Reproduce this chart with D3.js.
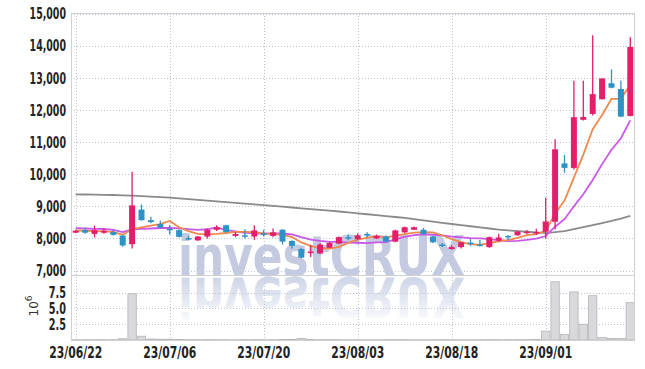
<!DOCTYPE html>
<html>
<head>
<meta charset="UTF-8">
<script src="https://cdn.jsdelivr.net/npm/d3@7"></script>
<title>investCRUX</title>
<style>
body{margin:0;background:#fff;}
text{font-family:"DejaVu Sans Condensed","DejaVu Sans",sans-serif;}
</style>
</head>
<body>
<div id="container"></div>
<script>
// 거래일
var dates=["23/06/22","23/06/23","23/06/26","23/06/27","23/06/28","23/06/29","23/06/30",
"23/07/03","23/07/04","23/07/05","23/07/06","23/07/07","23/07/10","23/07/11","23/07/12","23/07/13","23/07/14",
"23/07/17","23/07/18","23/07/19","23/07/20","23/07/21","23/07/24","23/07/25","23/07/26","23/07/27","23/07/28","23/07/31",
"23/08/01","23/08/02","23/08/03","23/08/04","23/08/07","23/08/08","23/08/09","23/08/10","23/08/11","23/08/14",
"23/08/16","23/08/17","23/08/18","23/08/21","23/08/22","23/08/23","23/08/24","23/08/25","23/08/28","23/08/29","23/08/30","23/08/31",
"23/09/01","23/09/04","23/09/05","23/09/06","23/09/07","23/09/08","23/09/11","23/09/12","23/09/13","23/09/14"];
var tickDates=["23/06/22","23/07/06","23/07/20","23/08/03","23/08/18","23/09/01"];
var priceTicks=[7000,8000,9000,10000,11000,12000,13000,14000,15000];
var volTicks=[2.5,5,7.5];

var opens=[8180,8260,8140,8180,8200,8090,7820,8900,8570,8450,8300,8260,8010,7940,8060,8270,8410,8080,8100,8060,
8160,8080,8270,7920,7670,7570,7530,7710,7840,8040,7980,8140,8000,8060,7900,8190,8270,8270,8060,7810,
7670,7730,7870,7810,7730,7930,8080,8100,8180,8180,8210,8520,10340,10200,11700,11880,12340,12840,12660,11820];
var highs=[8260,8330,8400,8310,8280,8100,10080,9060,8680,8550,8420,8280,8090,8080,8310,8410,8430,8200,8290,8410,
8270,8310,8290,7940,7710,7790,7860,7880,8060,8120,8160,8190,8120,8100,8270,8370,8370,8330,8080,7860,
7790,7900,7980,7950,8060,8150,8100,8240,8260,8300,9270,11090,10600,12920,12920,14340,12990,13270,12920,14270];
var lows=[8160,8150,8030,8150,8090,7740,7690,8550,8470,8320,8120,8030,7950,7920,8000,8230,8180,8040,8000,7960,
8060,8040,7810,7690,7380,7420,7510,7700,7820,7940,7940,8040,7980,7880,7880,8170,8260,8120,7860,7730,
7650,7690,7770,7750,7710,7890,7950,8080,8130,8110,8000,8280,10050,10150,11680,11830,12340,12680,11780,11800];
var closes=[8240,8180,8260,8240,8110,7780,9030,8570,8510,8340,8280,8050,7970,8060,8270,8350,8200,8140,8060,8250,
8120,8190,7900,7770,7400,7590,7810,7860,8040,8000,8100,8100,8080,7900,8250,8350,8350,8140,7880,7790,
7730,7880,7850,7770,8040,8030,8050,8210,8210,8200,8530,10780,10200,11780,11790,12500,12990,12700,11800,13970];

// 이동평균선
var ma5=[8250,8240,8230,8220,8206,8114,8284,8346,8400,8446,8546,8350,8230,8140,8126,8140,8170,8204,8204,8200,
8154,8152,8104,8046,7876,7770,7694,7686,7740,7860,7960,8018,8062,8034,8084,8134,8184,8196,8192,8100,
7976,7882,7824,7802,7852,7912,7946,8018,8104,8136,8236,8782,9180,9894,10612,11406,11848,12352,12356,12792];
var ma10=[8320,8310,8300,8295,8270,8200,8280,8300,8310,8326,8330,8317,8288,8270,8286,8343,8260,8217,8172,8163,
8147,8161,8154,8125,8038,7962,7923,7895,7893,7868,7866,7857,7875,7888,7973,8049,8103,8131,8115,8094,
8057,8035,8012,7999,7978,7946,7915,7922,7955,7996,8076,8366,8601,9002,9377,9824,10318,10767,11126,11684];
var ma60=[9375,9370,9365,9360,9355,9345,9335,9320,9305,9290,9270,9248,9225,9200,9178,9155,9132,9110,9087,9063,
9040,9015,8990,8965,8940,8915,8890,8865,8840,8812,8784,8755,8726,8697,8668,8640,8602,8564,8526,8488,
8450,8415,8380,8345,8310,8275,8252,8230,8208,8186,8168,8195,8230,8290,8350,8415,8480,8545,8620,8705];

// 거래량 (10^6)
var volumes=[0.05,0.05,0.05,0.05,0.05,0.2,7.3,0.6,0.15,0.12,0.12,0.08,0.06,0.05,0.06,0.05,0.05,0.04,0.05,0.06,
0.05,0.05,0.08,0.1,0.25,0.08,0.06,0.05,0.05,0.04,0.05,0.04,0.04,0.05,0.06,0.05,0.04,0.04,0.05,0.05,
0.05,0.04,0.04,0.05,0.06,0.05,0.05,0.06,0.06,0.08,1.4,9.2,0.9,7.6,2.5,7.0,0.4,0.25,0.25,5.9];

var width=645,height=369,
    plotLeft=71,plotRight=635,
    plotTop=13,plotMid=275,plotBottom=340,
    upColor="#e31e6b",downColor="#2d93c6",
    gridColor="#bcc2d4";

var svg=d3.select("#container").append("svg")
    .attr("width",width)
    .attr("height",height)
    .style("display","block");

var x=d3.scaleBand().domain(d3.range(dates.length)).range([plotLeft,plotRight]).padding(0);
var cx=function(i){return x(i)+x.bandwidth()/2;};
var y=d3.scaleLinear().domain([6860,15030]).range([plotMid,plotTop]);
var yv=d3.scaleLinear().domain([0,10.27]).range([plotBottom,plotMid]);

var defs=svg.append("defs");
defs.append("clipPath").attr("id","clipPrice").append("rect")
    .attr("x",plotLeft).attr("y",plotTop).attr("width",plotRight-plotLeft).attr("height",plotMid-plotTop);
var grad=defs.append("linearGradient").attr("id","refl")
    .attr("gradientUnits","userSpaceOnUse").attr("x1",0).attr("x2",0).attr("y1",275).attr("y2",230);
grad.append("stop").attr("offset",0).attr("stop-color","#c4cbe1").attr("stop-opacity",0.8);
grad.append("stop").attr("offset",1).attr("stop-color","#c4cbe1").attr("stop-opacity",0.05);

// 격자
var grid=svg.append("g");
grid.selectAll(".hg").data(priceTicks).enter().append("line")
    .attr("x1",plotLeft).attr("x2",plotRight)
    .attr("y1",function(d){return Math.round(y(d))+0.5;})
    .attr("y2",function(d){return Math.round(y(d))+0.5;})
    .attr("stroke",gridColor).attr("stroke-dasharray","1,2");
grid.selectAll(".vg").data(volTicks).enter().append("line")
    .attr("x1",plotLeft).attr("x2",plotRight)
    .attr("y1",function(d){return Math.round(yv(d))+0.5;})
    .attr("y2",function(d){return Math.round(yv(d))+0.5;})
    .attr("stroke",gridColor).attr("stroke-dasharray","1,2");
grid.selectAll(".xg").data(tickDates).enter().append("line")
    .attr("x1",function(d){return Math.round(cx(dates.indexOf(d)))+0.5;})
    .attr("x2",function(d){return Math.round(cx(dates.indexOf(d)))+0.5;})
    .attr("y1",plotTop).attr("y2",plotBottom)
    .attr("stroke",gridColor).attr("stroke-dasharray","1,2");

// 워터마크 (아래는 거꾸로 비친 모양)
svg.append("text").text("investCRUX")
    .attr("x",178).attr("y",275)
    .attr("textLength",287).attr("lengthAdjust","spacingAndGlyphs")
    .style("font-family","'DejaVu Sans',sans-serif")
    .style("font-weight","bold").style("font-size","56px")
    .attr("fill","#c4cbe1");
svg.append("text").text("investCRUX")
    .attr("x",178).attr("y",275)
    .attr("transform","translate(0,553) scale(1,-1)")
    .attr("textLength",287).attr("lengthAdjust","spacingAndGlyphs")
    .style("font-family","'DejaVu Sans',sans-serif")
    .style("font-weight","bold").style("font-size","56px")
    .attr("fill","url(#refl)");

// 거래량
svg.append("g").selectAll("rect").data(volumes).enter().append("rect")
    .attr("x",function(d,i){return x(i)+0.5;})
    .attr("width",x.bandwidth()-1)
    .attr("y",function(d){return yv(d);})
    .attr("height",function(d){return plotBottom-yv(d);})
    .attr("fill","#d9d9db").attr("stroke","#b5b5ba").attr("stroke-width",0.8);

// 이동평균선
var line=function(arr){
    return d3.line().x(function(d,i){return cx(i);}).y(function(d){return y(d);})(arr);
};
var lines=svg.append("g").attr("clip-path","url(#clipPrice)").attr("fill","none");
lines.append("path").attr("d",line(ma60)).attr("stroke","#8a8a8a").attr("stroke-width",1.8);
lines.append("path").attr("d",line(ma10)).attr("stroke","#c957ea").attr("stroke-width",1.8);
lines.append("path").attr("d",line(ma5)).attr("stroke","#f0894f").attr("stroke-width",1.8);

// 캔들
var candle=svg.append("g").attr("clip-path","url(#clipPrice)")
    .selectAll("g").data(d3.range(dates.length)).enter().append("g");
candle.append("line")
    .attr("x1",function(i){return cx(i);}).attr("x2",function(i){return cx(i);})
    .attr("y1",function(i){return y(highs[i]);}).attr("y2",function(i){return y(lows[i]);})
    .attr("stroke",function(i){return closes[i]>=opens[i]?upColor:downColor;})
    .attr("stroke-width",1.3);
candle.append("rect")
    .attr("x",function(i){return cx(i)-3;})
    .attr("width",6)
    .attr("y",function(i){return y(Math.max(opens[i],closes[i]));})
    .attr("height",function(i){return Math.max(1.5,Math.abs(y(opens[i])-y(closes[i])));})
    .attr("fill",function(i){return closes[i]>=opens[i]?upColor:downColor;});

// 테두리
var frame=svg.append("g").attr("stroke","#cfcfd4").attr("fill","none");
frame.append("rect").attr("x",plotLeft+0.5).attr("y",plotTop+0.5)
    .attr("width",plotRight-plotLeft-1).attr("height",plotBottom-plotTop);
frame.append("line").attr("x1",plotLeft).attr("x2",plotRight)
    .attr("y1",plotMid+0.5).attr("y2",plotMid+0.5);

// 축 글자 (좁은 글꼴 흉내: 가로로 줄임)
svg.append("g").selectAll("text").data(priceTicks).enter().append("text")
    .text(function(d){return d3.format(",")(d);})
    .attr("transform",function(d){return "translate(66,"+y(d)+") scale(0.7,1)";})
    .attr("dy","0.36em").attr("text-anchor","end")
    .style("font-size","15px").style("font-weight","bold").attr("fill","#222");
svg.append("g").selectAll("text").data(volTicks).enter().append("text")
    .text(function(d){return d3.format(".1f")(d);})
    .attr("transform",function(d){return "translate(66,"+yv(d)+") scale(0.72,1)";})
    .attr("dy","0.36em").attr("text-anchor","end")
    .style("font-size","15px").style("font-weight","bold").attr("fill","#222");
svg.append("g").selectAll("text").data(tickDates).enter().append("text")
    .text(function(d){return d;})
    .attr("transform",function(d){return "translate("+cx(dates.indexOf(d))+",358) scale(0.8,1)";})
    .attr("text-anchor","middle")
    .style("font-size","15px").style("font-weight","bold").attr("fill","#222");

var unit=svg.append("text").attr("transform","translate(38,306) rotate(-90)")
    .attr("text-anchor","middle").attr("fill","#333")
    .style("font-family","'DejaVu Sans',sans-serif").style("font-size","12px");
unit.append("tspan").text("10");
unit.append("tspan").text("6").attr("dy","-6").style("font-size","9px");
</script>
</body>
</html>
